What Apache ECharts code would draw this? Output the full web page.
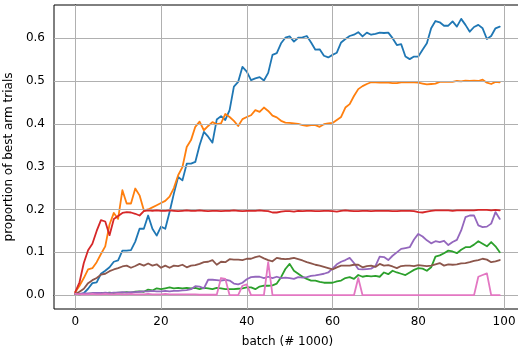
<!DOCTYPE html>
<html>
<head>
<meta charset="utf-8">
<script src="https://cdn.jsdelivr.net/npm/echarts@6/dist/echarts.min.js"></script>
<style>
  html, body { margin: 0; padding: 0; background: #fff; }
  #chart { width: 518px; height: 354px; }
</style>
</head>
<body>
<div id="chart"></div>
<script>
// batch index (thousands)
const batches = Array.from({ length: 100 }, (_, i) => i);

const xTicks = [0, 20, 40, 60, 80, 100];
const yTicks = [0.0, 0.1, 0.2, 0.3, 0.4, 0.5, 0.6];

// proportion of trials given to the best arm, one array per run
const armBlue = [
  0.000, 0.002, 0.005, 0.015, 0.028, 0.030, 0.050, 0.057, 0.065, 0.078,
  0.081, 0.104, 0.104, 0.105, 0.125, 0.155, 0.155, 0.186, 0.155, 0.139,
  0.160, 0.155, 0.194, 0.237, 0.276, 0.268, 0.307, 0.307, 0.311, 0.350,
  0.381, 0.370, 0.356, 0.410, 0.418, 0.409, 0.432, 0.487, 0.498, 0.533,
  0.522, 0.502, 0.506, 0.509, 0.501, 0.519, 0.561, 0.565, 0.588, 0.601,
  0.604, 0.592, 0.601, 0.602, 0.605, 0.590, 0.573, 0.574, 0.559, 0.555,
  0.561, 0.566, 0.590, 0.598, 0.605, 0.608, 0.614, 0.604, 0.613, 0.608,
  0.610, 0.613, 0.612, 0.613, 0.600, 0.584, 0.586, 0.557, 0.551, 0.557,
  0.557, 0.573, 0.588, 0.623, 0.640, 0.637, 0.629, 0.629, 0.639, 0.627,
  0.645, 0.631, 0.615, 0.626, 0.631, 0.623, 0.598, 0.605, 0.623, 0.627
];
const armOrange = [
  0.007, 0.022, 0.040, 0.060, 0.063, 0.077, 0.096, 0.114, 0.165, 0.192,
  0.178, 0.245, 0.214, 0.214, 0.249, 0.233, 0.198, 0.200, 0.205, 0.210,
  0.215, 0.220, 0.230, 0.250, 0.280, 0.299, 0.346, 0.362, 0.393, 0.405,
  0.385, 0.395, 0.404, 0.399, 0.401, 0.423, 0.416, 0.407, 0.395, 0.411,
  0.416, 0.420, 0.432, 0.428, 0.438, 0.430, 0.419, 0.415, 0.407, 0.403,
  0.402, 0.401, 0.400, 0.397, 0.395, 0.397, 0.397, 0.393, 0.399, 0.401,
  0.402, 0.409, 0.416, 0.438, 0.446, 0.465, 0.481, 0.488, 0.493, 0.497,
  0.497, 0.496, 0.496, 0.496, 0.495, 0.495, 0.497, 0.497, 0.497, 0.497,
  0.496, 0.494, 0.492, 0.493, 0.494, 0.498, 0.498, 0.498, 0.498, 0.500,
  0.499, 0.501, 0.500, 0.501, 0.500, 0.503, 0.496, 0.493, 0.498, 0.497
];
const armGreen = [
  0.003, 0.002, 0.003, 0.003, 0.004, 0.004, 0.005, 0.005, 0.006, 0.005,
  0.006, 0.006, 0.007, 0.006, 0.008, 0.009, 0.008, 0.013, 0.011, 0.016,
  0.014, 0.016, 0.018, 0.016, 0.017, 0.016, 0.017, 0.016, 0.017, 0.014,
  0.017, 0.016, 0.014, 0.017, 0.016, 0.014, 0.014, 0.014, 0.015, 0.016,
  0.018, 0.018, 0.014, 0.020, 0.022, 0.022, 0.023, 0.027, 0.042, 0.061,
  0.073, 0.057, 0.050, 0.043, 0.038, 0.034, 0.034, 0.031, 0.029, 0.029,
  0.029, 0.032, 0.034, 0.040, 0.042, 0.038, 0.047, 0.043, 0.045, 0.044,
  0.045, 0.043, 0.053, 0.049, 0.057, 0.053, 0.050, 0.047, 0.053, 0.059,
  0.063, 0.062, 0.057, 0.065, 0.090, 0.093, 0.098, 0.104, 0.102, 0.098,
  0.106, 0.112, 0.112, 0.118, 0.126, 0.120, 0.114, 0.124, 0.114, 0.100
];
const armRed = [
  0.007, 0.030, 0.075, 0.105, 0.120, 0.150, 0.175, 0.172, 0.140, 0.178,
  0.185, 0.192, 0.194, 0.193, 0.190, 0.186, 0.196, 0.198, 0.197, 0.198,
  0.197, 0.197, 0.198, 0.197, 0.196, 0.197, 0.198, 0.197, 0.197, 0.198,
  0.197, 0.196, 0.197, 0.197, 0.196, 0.197, 0.197, 0.198, 0.197, 0.196,
  0.197, 0.197, 0.197, 0.198, 0.197, 0.196, 0.193, 0.193, 0.195, 0.196,
  0.196, 0.195, 0.197, 0.196, 0.197, 0.197, 0.196, 0.196, 0.197, 0.197,
  0.196, 0.195, 0.197, 0.198, 0.197, 0.196, 0.196, 0.197, 0.197, 0.196,
  0.197, 0.197, 0.197, 0.197, 0.196, 0.196, 0.197, 0.197, 0.197, 0.196,
  0.194, 0.193, 0.195, 0.197, 0.198, 0.198, 0.198, 0.198, 0.197, 0.198,
  0.198, 0.198, 0.198, 0.198, 0.199, 0.199, 0.199, 0.198, 0.199, 0.198
];
const armPurple = [
  0.003, 0.003, 0.004, 0.004, 0.005, 0.005, 0.005, 0.006, 0.005, 0.006,
  0.006, 0.007, 0.006, 0.007, 0.007, 0.008, 0.009, 0.009, 0.010, 0.009,
  0.009, 0.010, 0.009, 0.010, 0.010, 0.011, 0.012, 0.014, 0.021, 0.020,
  0.016, 0.036, 0.036, 0.035, 0.034, 0.036, 0.034, 0.027, 0.025, 0.029,
  0.037, 0.042, 0.043, 0.043, 0.040, 0.043, 0.040, 0.043, 0.040, 0.041,
  0.040, 0.038, 0.042, 0.041, 0.042, 0.045, 0.046, 0.048, 0.050, 0.053,
  0.062, 0.072, 0.078, 0.082, 0.087, 0.075, 0.061, 0.060, 0.061, 0.062,
  0.068, 0.090, 0.089, 0.082, 0.092, 0.100, 0.108, 0.110, 0.112, 0.130,
  0.143, 0.137, 0.128, 0.121, 0.126, 0.124, 0.127, 0.117, 0.124, 0.129,
  0.151, 0.182, 0.186, 0.186, 0.163, 0.159, 0.160, 0.167, 0.194, 0.178
];
const armBrown = [
  0.003, 0.008, 0.015, 0.028, 0.035, 0.040, 0.048, 0.050, 0.056, 0.060,
  0.063, 0.067, 0.069, 0.064, 0.068, 0.073, 0.069, 0.074, 0.069, 0.072,
  0.064, 0.069, 0.064, 0.069, 0.068, 0.071, 0.065, 0.069, 0.070, 0.073,
  0.077, 0.078, 0.082, 0.071, 0.078, 0.077, 0.084, 0.083, 0.083, 0.082,
  0.085, 0.085, 0.089, 0.091, 0.086, 0.082, 0.079, 0.087, 0.085, 0.084,
  0.085, 0.087, 0.084, 0.081, 0.077, 0.074, 0.071, 0.069, 0.066, 0.063,
  0.060, 0.065, 0.069, 0.069, 0.069, 0.071, 0.071, 0.065, 0.068, 0.069,
  0.066, 0.073, 0.069, 0.070, 0.067, 0.063, 0.068, 0.069, 0.069, 0.068,
  0.070, 0.069, 0.068, 0.069, 0.072, 0.075, 0.069, 0.072, 0.071, 0.072,
  0.074, 0.075, 0.077, 0.080, 0.082, 0.085, 0.083, 0.077, 0.079, 0.082
];
const armPink = [
  0.003, 0.002, 0.002, 0.002, 0.003, 0.002, 0.002, 0.003, 0.002, 0.002,
  0.003, 0.002, 0.002, 0.003, 0.002, 0.002, 0.002, 0.003, 0.002, 0.002,
  0.002, 0.003, 0.002, 0.002, 0.002, 0.002, 0.002, 0.002, 0.002, 0.001,
  0.001, 0.001, 0.001, 0.001, 0.040, 0.038, 0.000, 0.000, 0.000, 0.022,
  0.025, 0.000, 0.000, 0.000, 0.000, 0.077, 0.000, 0.000, 0.000, 0.000,
  0.000, 0.000, 0.000, 0.000, 0.000, 0.000, 0.000, 0.000, 0.000, 0.000,
  0.000, 0.000, 0.000, 0.000, 0.000, 0.000, 0.040, 0.000, 0.000, 0.000,
  0.000, 0.000, 0.000, 0.000, 0.000, 0.000, 0.000, 0.000, 0.000, 0.000,
  0.000, 0.000, 0.000, 0.000, 0.000, 0.000, 0.000, 0.000, 0.000, 0.000,
  0.000, 0.000, 0.000, 0.000, 0.043, 0.047, 0.051, 0.000, 0.000, 0.000
];

const runs = [
  { values: armBlue,   color: '#1f77b4' },
  { values: armOrange, color: '#ff7f0e' },
  { values: armGreen,  color: '#2ca02c' },
  { values: armRed,    color: '#d62728' },
  { values: armPurple, color: '#9467bd' },
  { values: armBrown,  color: '#8c564b' },
  { values: armPink,   color: '#e377c2' }
];

const FONT = 'DejaVu Sans';
const gridLineStyle = { color: '#b0b0b0', width: 1, type: 'solid' };

const lineSeries = runs.map((r, k) => ({
  type: 'line',
  data: batches.map((b, i) => [b, r.values[i]]),
  showSymbol: false,
  symbol: 'none',
  animation: false,
  z: 3 + k,
  lineStyle: { color: r.color, width: 1.8, cap: 'round', join: 'round' },
  itemStyle: { color: r.color }
}));

// grid lines drawn beneath the curves
const gridSeries = {
  type: 'line',
  data: [],
  z: 1,
  silent: true,
  markLine: {
    silent: true,
    symbol: ['none', 'none'],
    animation: false,
    label: { show: false },
    lineStyle: gridLineStyle,
    emphasis: { disabled: true },
    data: xTicks.map(v => ({ xAxis: v })).concat(yTicks.map(v => ({ yAxis: v })))
  }
};

const chart = echarts.init(document.getElementById('chart'), null, { renderer: 'canvas' });
chart.setOption({
  animation: false,
  backgroundColor: '#ffffff',
  textStyle: { fontFamily: FONT },
  grid: {
    left: 54, top: 5, width: 467, height: 304,
    outerBoundsMode: 'none',
    containLabel: false,
    show: true, borderColor: '#000', borderWidth: 1, backgroundColor: 'transparent'
  },
  xAxis: {
    type: 'value',
    min: -4.95, max: 103.95,
    name: 'batch (# 1000)',
    nameLocation: 'middle',
    nameGap: 27,
    nameTextStyle: { fontFamily: FONT, fontSize: 12, color: '#000' },
    axisLine: { show: true, lineStyle: { color: '#000', width: 1 } },
    axisTick: { show: true, length: 4, customValues: xTicks, lineStyle: { color: '#000', width: 1 } },
    axisLabel: { customValues: xTicks, fontFamily: FONT, fontSize: 12, color: '#000', margin: 7 },
    splitLine: { show: false }
  },
  yAxis: {
    type: 'value',
    min: -0.0323, max: 0.6774,
    name: 'proportion of best arm trials',
    nameLocation: 'middle',
    nameGap: 34,
    nameTextStyle: { fontFamily: FONT, fontSize: 12, color: '#000' },
    axisLine: { show: true, lineStyle: { color: '#000', width: 1 } },
    axisTick: { show: true, length: 4, customValues: yTicks, lineStyle: { color: '#000', width: 1 } },
    axisLabel: {
      customValues: yTicks, fontFamily: FONT, fontSize: 12, color: '#000', margin: 9,
      formatter: v => v.toFixed(1)
    },
    splitLine: { show: false }
  },
  series: [gridSeries].concat(lineSeries)
});
</script>
</body>
</html>
